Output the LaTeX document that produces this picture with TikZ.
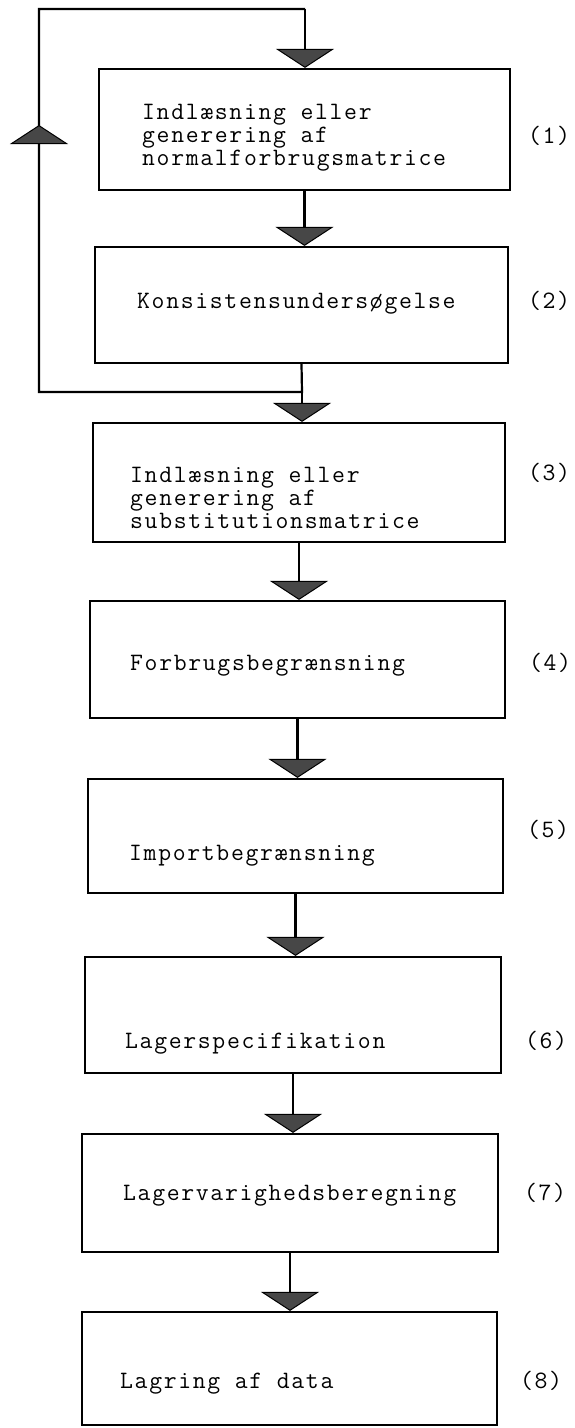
\documentclass[tikz,border=0pt]{standalone}
\usepackage{fontspec}
\setmonofont[LetterSpace=6.7]{Latin Modern Mono}
\usetikzlibrary{arrows.meta}
\tikzset{
  x=1pt, y=-1pt,
  box/.style={draw, line width=2.2pt, rectangle, inner sep=0pt},
  txt/.style={inner sep=0pt, anchor=base west, font=\ttfamily\fontsize{25}{23}\selectfont},
  num/.style={inner sep=0pt, anchor=base, font=\ttfamily\fontsize{25}{23}\selectfont},
  line/.style={draw, line width=2.2pt},
  flow/.style={draw, line width=2.2pt, -{Triangle[width=58pt,length=19pt,fill=black!72,line width=1pt]}},
}
\begin{document}
\begin{tikzpicture}
\useasboundingbox (0,0) rectangle (574,1428);
% boxes
\node[box, minimum width=411pt, minimum height=121pt] (b1) at (304.5,129.5) {};
\node[box, minimum width=413pt, minimum height=116pt] (b2) at (301.5,305) {};
\node[box, minimum width=412pt, minimum height=119pt] (b3) at (299,482.5) {};
\node[box, minimum width=415pt, minimum height=117pt] (b4) at (297.5,659.5) {};
\node[box, minimum width=415pt, minimum height=114pt] (b5) at (295.5,836) {};
\node[box, minimum width=416pt, minimum height=116pt] (b6) at (293,1015) {};
\node[box, minimum width=416pt, minimum height=118pt] (b7) at (290,1193) {};
\node[box, minimum width=415pt, minimum height=113pt] (b8) at (289.5,1368.5) {};
% texts
\node[txt] (t1a) at (142,119) {Indlæsning eller};
\node[txt] (t1b) at (142,142) {generering af};
\node[txt] (t1c) at (142,165) {normalforbrugsmatrice};
\node[txt] (t2) at (137,308) {Konsistensundersøgelse};
\node[txt] (t3a) at (130,482) {Indlæsning eller};
\node[txt] (t3b) at (130,505) {generering af};
\node[txt] (t3c) at (130,528) {substitutionsmatrice};
\node[txt] (t4) at (130,670) {Forbrugsbegrænsning};
\node[txt] (t5) at (129,860) {Importbegrænsning};
\node[txt] (t6) at (125,1048) {Lagerspecifikation};
\node[txt] (t7) at (123,1200) {Lagervarighedsberegning};
\node[txt] (t8) at (120,1388) {Lagring af data};
% step numbers
\node[num] (n1) at (549,143) {(1)};
\node[num] (n2) at (549,308) {(2)};
\node[num] (n3) at (549,480) {(3)};
\node[num] (n4) at (550,670) {(4)};
\node[num] (n5) at (548,837) {(5)};
\node[num] (n6) at (546,1048) {(6)};
\node[num] (n7) at (545,1200) {(7)};
\node[num] (n8) at (541,1388) {(8)};
% loop
\coordinate (jn) at (302,392);
\coordinate (ll) at (39,392);
\coordinate (la) at (39,125);
\coordinate (lu) at (39,9);
\coordinate (ru) at (305,9);
\draw[line] (b2.south) -- (jn) -- (ll) -- (lu) -- (ru);
\draw[flow] (ll) -- (la);
\draw[flow] (ru) -- (ru |- b1.north);
% flow connectors
\draw[flow] (b1.south) -- (b1.south |- b2.north);
\draw[flow] (jn) -- (jn |- b3.north);
\draw[flow] (b3.south) -- (b3.south |- b4.north);
\draw[flow] (b4.south) -- (b4.south |- b5.north);
\draw[flow] (b5.south) -- (b5.south |- b6.north);
\draw[flow] (b6.south) -- (b6.south |- b7.north);
\draw[flow] (b7.south) -- (b7.south |- b8.north);
\end{tikzpicture}
\end{document}
